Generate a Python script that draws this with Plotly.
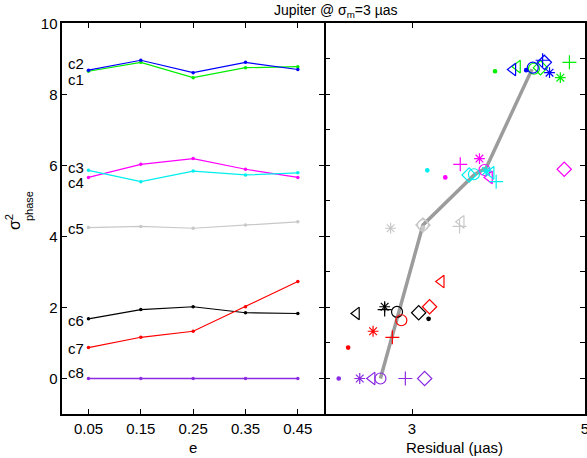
import plotly.graph_objects as go

# Orbital eccentricities sampled for every configuration
ecc = [0.05, 0.15, 0.25, 0.35, 0.45]
ecc_ticks = ["0.05", "0.15", "0.25", "0.35", "0.45"]

# Phase variance per configuration, ordered by eccentricity
sig_c1 = [8.65, 8.90, 8.47, 8.75, 8.78]
sig_c2 = [8.68, 8.96, 8.61, 8.90, 8.70]
sig_c3 = [5.66, 6.03, 6.19, 5.89, 5.66]
sig_c4 = [5.86, 5.54, 5.84, 5.73, 5.79]
sig_c5 = [4.25, 4.28, 4.23, 4.32, 4.41]
sig_c6 = [1.68, 1.94, 2.02, 1.85, 1.83]
sig_c7 = [0.87, 1.16, 1.33, 2.02, 2.73]
sig_c8 = [0.0, 0.0, 0.0, 0.0, 0.0]

# Residual (micro-arcsec) per configuration, ordered by eccentricity
res_c1 = [3.96, 4.82, 4.715, 4.485, 4.22]
res_c2 = [4.32, 4.51, 4.59, 4.53, 4.166]
res_c3 = [3.385, 3.558, 3.78, 4.76, 3.896]
res_c4 = [3.177, 3.973, 3.858, 3.66, 3.915]
res_c5 = [3.127, 3.55, 2.753, 3.127, 3.569]
res_c6 = [3.192, 2.684, 2.684, 3.077, 2.358]
res_c7 = [2.262, 2.773, 2.550, 3.203, 3.338]
res_c8 = [2.153, 2.923, 2.396, 3.146, 2.539]

# Averaged point of each configuration (residual, variance)
avg_res = [4.41, 4.396, 3.838, 3.716, 3.127, 2.827, 2.877, 2.635]
avg_sig = [8.72, 8.75, 5.87, 5.75, 4.32, 1.876, 1.64, 0.0]

# Overall trend through the configuration averages
trend_res = [2.635, 3.127, 3.718, 3.858, 4.388]
trend_sig = [0.0, 4.32, 5.73, 5.93, 8.71]

names = ["c1", "c2", "c3", "c4", "c5", "c6", "c7", "c8"]
sigs = [sig_c1, sig_c2, sig_c3, sig_c4, sig_c5, sig_c6, sig_c7, sig_c8]
ress = [res_c1, res_c2, res_c3, res_c4, res_c5, res_c6, res_c7, res_c8]
colors = ["#00ee00", "#0000ff", "#ff00ff", "#00eeee", "#c8c8c8",
          "#000000", "#ff0000", "#8a2be2"]

# one symbol per eccentricity in the residual panel
symbols = ["circle", "cross-thin-open", "asterisk-open", "diamond-open", "triangle-left-open"]
sym_sizes = [3.5, 10, 9, 11, 11]

# vertical placement of the configuration labels
label_y = [8.43, 8.86, 5.94, 5.51, 4.23, 1.62, 0.85, 0.17]

FONT = "Liberation Sans, Arial, sans-serif"
W, H = 587, 458
LW = 1.5

fig = go.Figure()

# left panel: variance vs eccentricity
for name, s, c in zip(names, sigs, colors):
    fig.add_trace(go.Scatter(
        x=ecc, y=s, mode="lines+markers", xaxis="x", yaxis="y",
        line=dict(color=c, width=1.5 if name == "c8" else 1.2),
        marker=dict(color=c, size=3.5), showlegend=False, hoverinfo="skip"))

# right panel: trend line first so markers sit on top
fig.add_trace(go.Scatter(
    x=trend_res, y=trend_sig, mode="lines", xaxis="x2", yaxis="y2",
    line=dict(color="#9c9c9c", width=3.5), showlegend=False, hoverinfo="skip"))

for i, (name, s, r, c) in enumerate(zip(names, sigs, ress, colors)):
    for k in range(len(ecc)):
        fig.add_trace(go.Scatter(
            x=[r[k]], y=[s[k]], mode="markers", xaxis="x2", yaxis="y2",
            marker=dict(symbol=symbols[k], size=sym_sizes[k], color=c,
                        line=dict(color=c, width=1.2)),
            showlegend=False, hoverinfo="skip"))
    fig.add_trace(go.Scatter(
        x=[avg_res[i]], y=[avg_sig[i]], mode="markers", xaxis="x2", yaxis="y2",
        marker=dict(symbol="circle-open", size=11, color=c,
                    line=dict(color=c, width=1.2)),
        showlegend=False, hoverinfo="skip"))

axis_common = dict(showline=True, linecolor="black", linewidth=LW,
                   mirror="allticks", ticks="inside", ticklen=5,
                   tickcolor="black", showgrid=False, zeroline=False,
                   automargin=False,
                   tickfont=dict(family=FONT, size=15, color="black"))

annotations = []
for name, ly in zip(names, label_y):
    annotations.append(dict(x=0.008, y=ly, xref="x", yref="y", text=name,
                            showarrow=False, xanchor="left", yanchor="middle",
                            font=dict(family=FONT, size=15, color="black")))

annotations += [
    dict(x=336.5 / W, y=1 - 11 / H, xref="paper", yref="paper",
         text="Jupiter @ σ<sub>m</sub>=3 µas", showarrow=False,
         xanchor="center", yanchor="middle",
         font=dict(family=FONT, size=14, color="black")),
    dict(x=193 / W, y=1 - 447 / H, xref="paper", yref="paper",
         text="e", showarrow=False, xanchor="center", yanchor="middle",
         font=dict(family=FONT, size=15, color="black")),
    dict(x=454 / W, y=1 - 447 / H, xref="paper", yref="paper",
         text="Residual (µas)", showarrow=False, xanchor="center", yanchor="middle",
         font=dict(family=FONT, size=15, color="black")),
    dict(x=13 / W, y=1 - 222 / H, xref="paper", yref="paper",
         text="σ<sup>2</sup>", showarrow=False, textangle=-90,
         xanchor="center", yanchor="middle",
         font=dict(family=FONT, size=16, color="black")),
    dict(x=29 / W, y=1 - 206 / H, xref="paper", yref="paper",
         text="phase", showarrow=False, textangle=-90,
         xanchor="center", yanchor="middle",
         font=dict(family=FONT, size=11, color="black")),
]

x_split = 324 / W
y_lo, y_hi = 1 - 414 / H, 1 - 23.3 / H

fig.update_layout(
    width=W, height=H,
    margin=dict(l=0, r=0, t=0, b=0),
    paper_bgcolor="white", plot_bgcolor="white",
    font=dict(family=FONT, size=15, color="black"),
    xaxis=dict(domain=[62.3 / W, x_split], range=[0, 0.5],
               tickvals=ecc, ticktext=ecc_ticks, **axis_common),
    yaxis=dict(domain=[y_lo, y_hi], range=[-1, 10],
               tickvals=[0, 2, 4, 6, 8, 10], anchor="x", **axis_common),
    # shifted by one line width so the shared border is a single stroke
    xaxis2=dict(domain=[x_split + LW / W, 585 / W], range=[2, 5.0001],
                tickvals=[3, 5], anchor="y2", ticklabeloverflow="allow",
                **axis_common),
    yaxis2=dict(domain=[y_lo, y_hi], range=[-1, 10], dtick=1, tick0=0,
                showticklabels=False, anchor="x2", **axis_common),
    annotations=annotations,
)

fig.write_html("out.html")
